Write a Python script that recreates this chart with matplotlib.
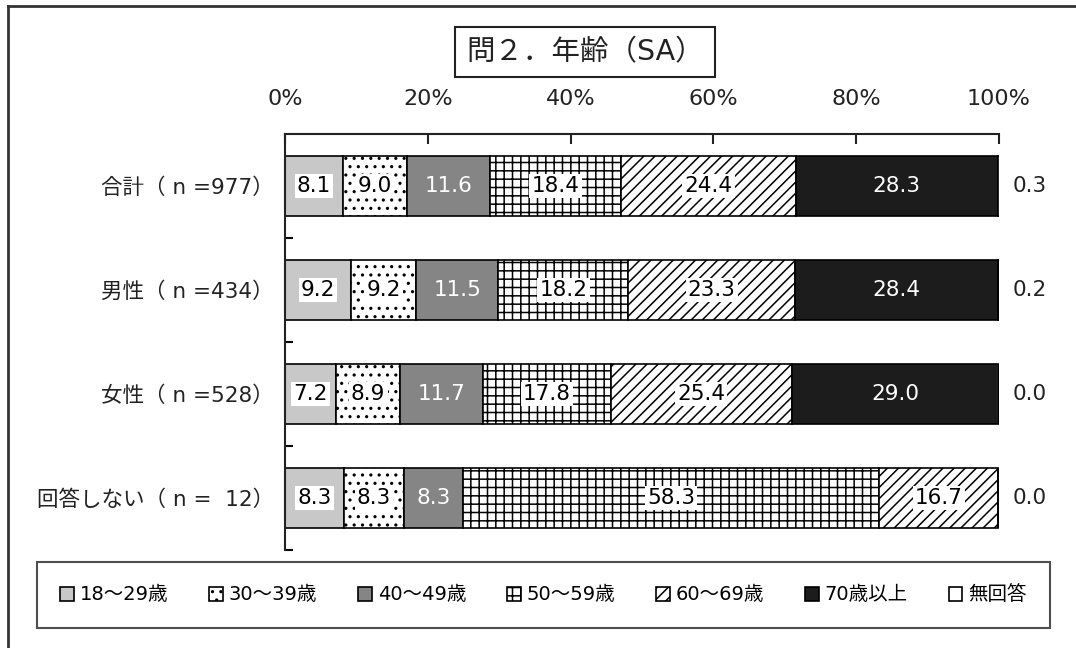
import matplotlib.pyplot as plt
from matplotlib.lines import Line2D

plt.rcParams['font.family'] = ['DejaVu Sans', 'Noto Sans CJK JP']
plt.rcParams['hatch.linewidth'] = 1.1
plt.rcParams['hatch.color'] = 'black'

# 問2. 年齢 (SA) の集計
groups = ['合計（ n =977）', '男性（ n =434）', '女性（ n =528）', '回答しない（ n =  12）']
age_labels = ['18～29歳', '30～39歳', '40～49歳', '50～59歳', '60～69歳', '70歳以上', '無回答']

age_18_29 = [8.1, 9.2, 7.2, 8.3]
age_30_39 = [9.0, 9.2, 8.9, 8.3]
age_40_49 = [11.6, 11.5, 11.7, 8.3]
age_50_59 = [18.4, 18.2, 17.8, 58.3]
age_60_69 = [24.4, 23.3, 25.4, 16.7]
age_70_up = [28.3, 28.4, 29.0, 0.0]
no_answer = [0.3, 0.2, 0.0, 0.0]

series = [age_18_29, age_30_39, age_40_49, age_50_59, age_60_69, age_70_up, no_answer]

fills = ['#c8c8c8', 'white', '#858585', 'white', 'white', '#1c1c1c', 'white']
hatches = [None, '..', None, '++', '///', None, None]
# text colour and whether the number gets a white box behind it
text_style = [('black', True), ('black', True), ('white', False),
              ('black', True), ('black', True), ('white', False)]

fig = plt.figure(figsize=(10.76, 6.48), dpi=100)
ax = fig.add_axes([285 / 1076, 1 - 550 / 648, 714 / 1076, 416 / 648])

ypos = list(range(len(groups)))
left = [0.0] * len(groups)
handles = []
for i, vals in enumerate(series):
    bars = ax.barh(ypos, vals, left=left, height=0.58, color=fills[i],
                   edgecolor='black', linewidth=1.2, hatch=hatches[i],
                   label=age_labels[i])
    handles.append(bars)
    if i < 6:
        color, boxed = text_style[i]
        for y, v, l in zip(ypos, vals, left):
            if v <= 0:
                continue
            box = dict(facecolor='white', edgecolor='none', pad=1.5) if boxed else None
            ax.text(l + v / 2, y, f'{v:.1f}', ha='center', va='center',
                    fontsize=15.5, color=color, bbox=box)
    else:
        for y, v in zip(ypos, vals):
            ax.annotate(f'{v:.1f}', xy=(100, y), xytext=(10, 0),
                        textcoords='offset points', ha='left', va='center',
                        fontsize=15.5, color='#222222')
    left = [a + b for a, b in zip(left, vals)]

ax.set_xlim(0, 100)
ax.set_ylim(3.5, -0.5)
ax.xaxis.tick_top()
ax.set_xticks(range(0, 101, 20))
ax.set_xticklabels([f'{t}%' for t in range(0, 101, 20)])
ax.tick_params(axis='x', direction='in', length=7, width=1.5, pad=18,
               labelsize=16, colors='#222222')
ax.set_yticks(ypos)
ax.set_yticklabels(groups)
ax.set_yticks([0.5, 1.5, 2.5, 3.5], minor=True)
ax.tick_params(axis='y', which='major', length=0, pad=8, labelsize=15.5,
               colors='#222222')
ax.tick_params(axis='y', which='minor', direction='in', length=6, width=1.5)
for side in ['right', 'bottom']:
    ax.spines[side].set_visible(False)
for side in ['top', 'left']:
    ax.spines[side].set_linewidth(1.5)
    ax.spines[side].set_color('#222222')

fig.text(585 / 1076, 1 - 52 / 648, '問２．年齢（SA）', ha='center', va='center',
         fontsize=20.5, color='#222222',
         bbox=dict(boxstyle='square,pad=0.4', facecolor='white',
                   edgecolor='#222222', linewidth=1.5))

leg = fig.legend(handles, age_labels, loc='center',
                 bbox_to_anchor=(37 / 1076, 1 - 627 / 648, 1013 / 1076, 64 / 648),
                 mode='expand', ncol=7, frameon=True, fancybox=False,
                 handlelength=0.7, handleheight=0.7, handletextpad=0.3,
                 borderpad=1.2, borderaxespad=0, fontsize=14)
leg.get_frame().set_edgecolor('#222222')
leg.get_frame().set_linewidth(1.5)

# outer frame
fig.add_artist(Line2D([8 / 1076, 1], [1 - 6 / 648] * 2, transform=fig.transFigure,
                      color='#333333', lw=2))
fig.add_artist(Line2D([8 / 1076] * 2, [0, 1 - 6 / 648], transform=fig.transFigure,
                      color='#333333', lw=2))

fig.savefig('out.png', dpi=100, facecolor='white')
